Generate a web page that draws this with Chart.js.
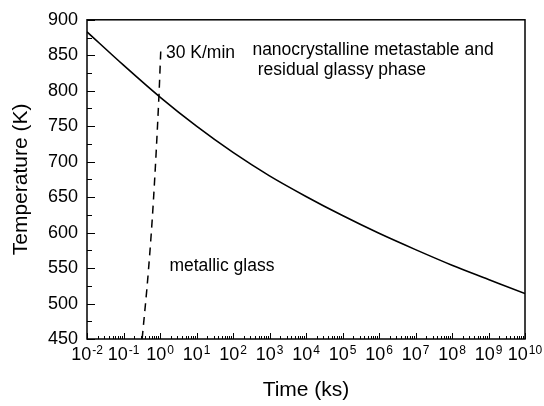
<!DOCTYPE html>
<html>
<head>
<meta charset="utf-8">
<script src="https://cdn.jsdelivr.net/npm/chart.js@4/dist/chart.umd.min.js"></script>
<style>
  html, body { margin: 0; padding: 0; background: #fff; }
  #wrap { width: 544px; height: 406px; }
</style>
</head>
<body>
<div id="wrap"><canvas id="tttChart" width="544" height="406"></canvas></div>
<script>
// Crystallization curve (solid), time in ks
const curveTimes = [1e-2, 1e-1, 1e0, 1e1, 1e2, 1e3, 1e4, 1e5, 1e6, 1e7, 1e8, 1e9, 1e10];
const curveTemps = [883, 836, 791, 750, 713, 680, 651, 624, 599, 576, 554, 534, 514];

// Constant heating 30 K/min (dashed)
const heatTimes = [0.324, 0.483, 0.66, 0.93, 1.06];
const heatTemps = [450, 547, 645, 790, 862];

// Axis ticks
const xTickExps = [-2, -1, 0, 1, 2, 3, 4, 5, 6, 7, 8, 9, 10];
const yTickValues = [450, 500, 550, 600, 650, 700, 750, 800, 850, 900];

// Text labels inside the plot (data coordinates of text start / baseline)
const noteTexts = ['30 K/min', 'nanocrystalline metastable and', 'residual glassy phase', 'metallic glass'];
const noteTimes = [1.46, 340, 475, 1.81];
const noteTemps = [846.5, 850, 822.5, 546.5];

Chart.defaults.font.family = '"Liberation Sans", Arial, sans-serif';
Chart.defaults.color = '#000';

const toPoints = (xs, ys) => xs.map((v, i) => ({ x: v, y: ys[i] }));

// minor + major positions along the log axis
const xAllTicks = [];
xTickExps.forEach(e => {
    for (let m = 1; m <= 9; m++) {
        const v = m * Math.pow(10, e);
        if (v <= Math.pow(10, xTickExps[xTickExps.length - 1])) xAllTicks.push(v);
    }
});

const yAllTicks = [];
for (let i = 0; i < yTickValues.length; i++) {
    yAllTicks.push(yTickValues[i]);
    if (i < yTickValues.length - 1) yAllTicks.push((yTickValues[i] + yTickValues[i + 1]) / 2);
}

const isDecade = v => Math.abs(Math.log10(v) - Math.round(Math.log10(v))) < 1e-9;

// frame, inward tick marks, x labels with exponents, notes
const framePlugin = {
    id: 'frame',
    afterDraw(chart) {
        const { ctx, chartArea: a, scales: { x, y } } = chart;
        ctx.save();
        ctx.strokeStyle = '#000';
        ctx.lineWidth = 1;
        ctx.beginPath();
        x.ticks.forEach(t => {
            const px = Math.round(x.getPixelForValue(t.value)) + 0.5;
            const len = isDecade(t.value) ? 6 : 3;
            ctx.moveTo(px, a.bottom);
            ctx.lineTo(px, a.bottom - len);
        });
        y.ticks.forEach(t => {
            const py = Math.round(y.getPixelForValue(t.value)) + 0.5;
            const len = t.value % 50 === 0 ? 8 : 5;
            ctx.moveTo(a.left, py);
            ctx.lineTo(a.left + len, py);
        });
        ctx.stroke();

        ctx.lineWidth = 1.5;
        ctx.strokeRect(a.left, a.top, a.right - a.left, a.bottom - a.top);

        // x tick labels: 10 with superscript exponent
        ctx.fillStyle = '#000';
        ctx.textBaseline = 'alphabetic';
        ctx.textAlign = 'left';
        const baseFont = '18px "Liberation Sans", Arial, sans-serif';
        const expFont = '12px "Liberation Sans", Arial, sans-serif';
        xTickExps.forEach(e => {
            const px = x.getPixelForValue(Math.pow(10, e));
            ctx.font = baseFont;
            const w1 = ctx.measureText('10').width;
            ctx.font = expFont;
            const w2 = ctx.measureText(String(e)).width;
            const start = px - (w1 + w2 + 1) / 2;
            ctx.font = baseFont;
            ctx.fillText('10', start, a.bottom + 21);
            ctx.font = expFont;
            ctx.fillText(String(e), start + w1 + 1, a.bottom + 15);
        });

        // notes
        ctx.font = '17.5px "Liberation Sans", Arial, sans-serif';
        noteTexts.forEach((txt, i) => {
            ctx.fillText(txt, x.getPixelForValue(noteTimes[i]), y.getPixelForValue(noteTemps[i]));
        });
        ctx.restore();
    }
};

new Chart(document.getElementById('tttChart'), {
    type: 'scatter',
    data: {
        datasets: [
            {
                label: 'crystallization',
                data: toPoints(curveTimes, curveTemps),
                showLine: true,
                borderColor: '#000',
                borderWidth: 1.6,
                pointRadius: 0,
                cubicInterpolationMode: 'monotone'
            },
            {
                label: '30 K/min',
                data: toPoints(heatTimes, heatTemps),
                showLine: true,
                borderColor: '#000',
                borderWidth: 1.5,
                borderDash: [8, 6],
                pointRadius: 0,
                cubicInterpolationMode: 'monotone'
            }
        ]
    },
    options: {
        responsive: false,
        animation: false,
        devicePixelRatio: 1,
        layout: { padding: { top: 18, right: 19, left: 0, bottom: 0 } },
        plugins: { legend: { display: false }, tooltip: { enabled: false } },
        scales: {
            x: {
                type: 'logarithmic',
                min: 1e-2,
                max: 1e10,
                grid: { display: false, drawTicks: false },
                border: { display: false },
                ticks: { display: false },
                afterBuildTicks: axis => { axis.ticks = xAllTicks.map(v => ({ value: v })); },
                afterFit: axis => { axis.height = 67; },
                title: {
                    display: true,
                    text: 'Time (ks)',
                    font: { size: 21 },
                    padding: { top: 0, bottom: 3 }
                }
            },
            y: {
                min: 450,
                max: 900,
                grid: { display: false, drawTicks: false },
                border: { display: false },
                afterBuildTicks: axis => { axis.ticks = yAllTicks.map(v => ({ value: v })); },
                afterFit: axis => { axis.width = 87; },
                ticks: {
                    autoSkip: false,
                    padding: 9,
                    font: { size: 18 },
                    callback: v => (v % 50 === 0 ? String(v) : '')
                },
                title: {
                    display: true,
                    text: 'Temperature (K)',
                    font: { size: 21 },
                    padding: { top: 9, bottom: 0 }
                }
            }
        }
    },
    plugins: [framePlugin]
});
</script>
</body>
</html>
